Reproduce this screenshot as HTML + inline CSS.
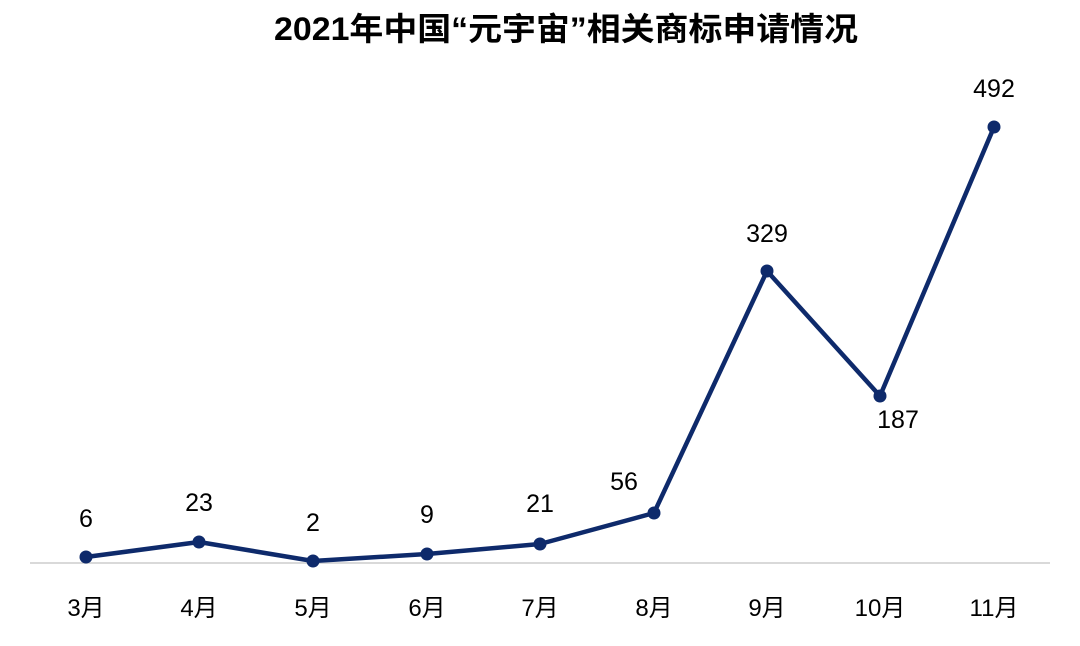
<!DOCTYPE html>
<html><head><meta charset="utf-8"><style>
html,body{margin:0;padding:0;background:#fff;}
svg{display:block;}
text{font-family:"Liberation Sans","Noto Sans CJK SC",sans-serif;}
</style></head><body>
<svg width="1080" height="646" viewBox="0 0 1080 646" xmlns="http://www.w3.org/2000/svg">
<rect width="1080" height="646" fill="#fff"/>
<text x="566" y="40" text-anchor="middle" font-size="32" font-weight="bold" fill="#000" textLength="584" lengthAdjust="spacingAndGlyphs">2021年中国“元宇宙”相关商标申请情况</text>
<line x1="30" y1="563" x2="1050" y2="563" stroke="#d9d9d9" stroke-width="2"/>
<polyline fill="none" stroke="#0e2a6b" stroke-width="4.5" stroke-linejoin="round" points="86,557 199,542 313,561 427,554 540,544 654,513 767,271 880,396 994,127"/>
<g fill="#0e2a6b">
<circle cx="86" cy="557" r="6.5"/><circle cx="199" cy="542" r="6.5"/><circle cx="313" cy="561" r="6.5"/><circle cx="427" cy="554" r="6.5"/><circle cx="540" cy="544" r="6.5"/><circle cx="654" cy="513" r="6.5"/><circle cx="767" cy="271" r="6.5"/><circle cx="880" cy="396" r="6.5"/><circle cx="994" cy="127" r="6.5"/>
</g>
<g font-size="25" fill="#000" text-anchor="middle">
<text x="86" y="527">6</text><text x="199" y="511">23</text><text x="313" y="531">2</text><text x="427" y="523">9</text><text x="540" y="512">21</text><text x="624" y="490">56</text><text x="767" y="242">329</text><text x="898" y="428">187</text><text x="994" y="97">492</text>
</g>
<g font-size="24" fill="#000" text-anchor="middle">
<text x="86" y="616">3月</text><text x="199" y="616">4月</text><text x="313" y="616">5月</text><text x="427" y="616">6月</text><text x="540" y="616">7月</text><text x="654" y="616">8月</text><text x="767" y="616">9月</text><text x="880" y="616">10月</text><text x="994" y="616">11月</text>
</g>
</svg>
</body></html>
